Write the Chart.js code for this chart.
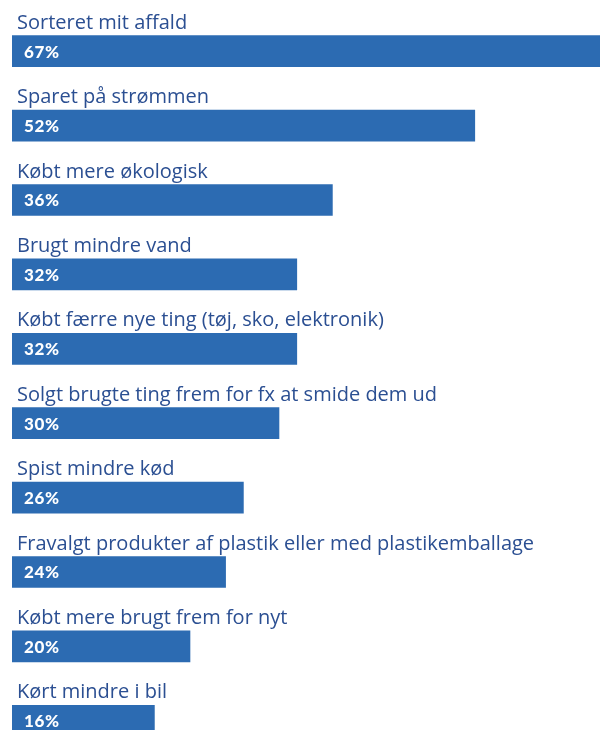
<!DOCTYPE html>
<html>
<head>
<meta charset="utf-8">
<script src="https://cdn.jsdelivr.net/npm/chart.js@4/dist/chart.umd.min.js"></script>
<style>
    html, body { margin: 0; padding: 0; background: #ffffff; overflow: hidden; }
    #wrap { width: 600px; height: 730px; overflow: hidden; }
</style>
</head>
<body>
<div id="wrap">
    <canvas id="chart" width="600" height="758"></canvas>
</div>
<script>
// Categories and values (percent)
const categories = [
    "Sorteret mit affald",
    "Sparet på strømmen",
    "Købt mere økologisk",
    "Brugt mindre vand",
    "Købt færre nye ting (tøj, sko, elektronik)",
    "Solgt brugte ting frem for fx at smide dem ud",
    "Spist mindre kød",
    "Fravalgt produkter af plastik eller med plastikemballage",
    "Købt mere brugt frem for nyt",
    "Kørt mindre i bil"
];
const values = [67, 52, 36, 32, 32, 30, 26, 24, 20, 16];

const barColor = "#2c6bb2";
const labelColor = "#2b4f92";

// Draw category text above each bar and the value inside it
const barLabels = {
    id: "barLabels",
    afterDatasetsDraw(chart) {
        const ctx = chart.ctx;
        const meta = chart.getDatasetMeta(0);
        const area = chart.chartArea;
        ctx.save();
        meta.data.forEach((bar, i) => {
            const top = bar.y - bar.height / 2;

            // Category label
            ctx.fillStyle = labelColor;
            ctx.font = "400 20px 'Open Sans'";
            ctx.letterSpacing = "0px";
            ctx.textAlign = "left";
            ctx.textBaseline = "alphabetic";
            ctx.fillText(categories[i], area.left + 5, top - 7);

            // Value label
            ctx.fillStyle = "#ffffff";
            ctx.font = "900 17px Lato";
            ctx.letterSpacing = "0.6px";
            ctx.textBaseline = "middle";
            ctx.fillText(values[i] + "%", bar.base + 12, bar.y + 1);
        });
        ctx.restore();
    }
};

const ctx = document.getElementById("chart");

new Chart(ctx, {
    type: "bar",
    data: {
        labels: categories,
        datasets: [{
            data: values,
            backgroundColor: barColor,
            borderWidth: 0,
            barThickness: 31
        }]
    },
    options: {
        indexAxis: "y",
        responsive: false,
        animation: false,
        layout: {
            padding: { left: 12, right: 0, top: 14, bottom: 0 }
        },
        scales: {
            x: {
                display: false,
                min: 0,
                max: 66.07
            },
            y: {
                display: false
            }
        },
        plugins: {
            legend: { display: false },
            tooltip: { enabled: false }
        }
    },
    plugins: [barLabels]
});
</script>
</body>
</html>
